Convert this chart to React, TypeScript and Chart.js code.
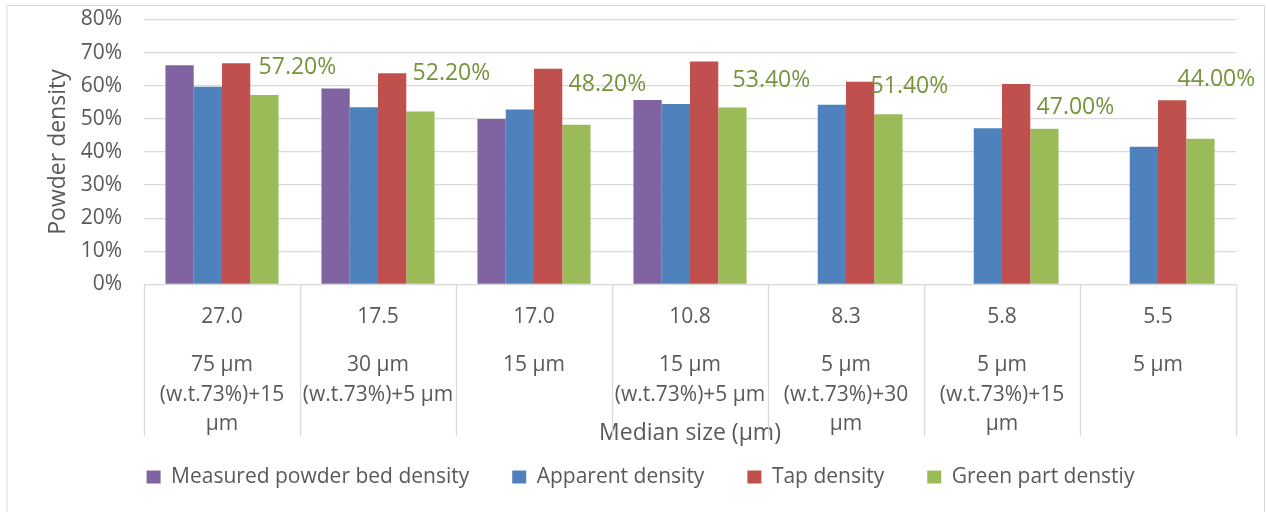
import React, { useEffect, useRef } from "react";
import { Chart, registerables } from "chart.js";

Chart.register(...registerables);

// Median particle size of each powder (first category row)
const medianSizes = ["27.0", "17.5", "17.0", "10.8", "8.3", "5.8", "5.5"];

// Powder blend of each sample (second category row, pre-wrapped)
const powderMixes = [
  ["75 µm", "(w.t.73%)+15", "µm"],
  ["30 µm", "(w.t.73%)+5 µm"],
  ["15 µm"],
  ["15 µm", "(w.t.73%)+5 µm"],
  ["5 µm", "(w.t.73%)+30", "µm"],
  ["5 µm", "(w.t.73%)+15", "µm"],
  ["5 µm"],
];

// Densities in percent
const measuredBedDensity = [66.2, 59.2, 50.0, 55.7, null, null, null];
const apparentDensity = [59.7, 53.5, 52.8, 54.5, 54.3, 47.2, 41.6];
const tapDensity = [66.8, 63.8, 65.1, 67.3, 61.2, 60.5, 55.6];
const greenPartDensity = [57.2, 52.2, 48.2, 53.4, 51.4, 47.0, 44.0];

const yTicks = [0, 10, 20, 30, 40, 50, 60, 70, 80];

// Hand-placed value labels: shift from the top centre of each green bar
const labelShiftX = [33, 31, 31, 39, 21, 31, 16];
const labelShiftY = [-27.5, -38, -40.5, -27.5, -28, -21, -59];

const FONT = "'Open Sans', 'DejaVu Sans', sans-serif";
const TEXT = "#595959";
const GRID = "#D9D9D9";

const framePlugin = {
  id: "frame",
  beforeDraw(chart: any) {
    const { ctx, width, height } = chart;
    ctx.save();
    ctx.fillStyle = "#ffffff";
    ctx.fillRect(0, 0, width, height);
    ctx.strokeStyle = GRID;
    ctx.lineWidth = 1;
    ctx.beginPath();
    ctx.moveTo(7, height + 2);
    ctx.lineTo(7, 5.5);
    ctx.lineTo(width - 1.5, 5.5);
    ctx.lineTo(width - 1.5, height + 2);
    ctx.stroke();
    ctx.restore();
  },
};

// Vertical dividers between the categories in the axis label area
const dividerPlugin = {
  id: "dividers",
  afterDraw(chart: any) {
    const x = chart.scales.x;
    const { ctx, chartArea } = chart;
    ctx.save();
    ctx.strokeStyle = GRID;
    ctx.lineWidth = 1.3;
    for (let i = 0; i <= medianSizes.length; i++) {
      const px = Math.round(x.getPixelForValue(i - 0.5)) + 0.5;
      ctx.beginPath();
      ctx.moveTo(px, chartArea.bottom);
      ctx.lineTo(px, 436);
      ctx.stroke();
    }
    ctx.restore();
  },
};

// Percent labels above the green bars
const valueLabelPlugin = {
  id: "valueLabels",
  afterDatasetsDraw(chart: any) {
    const meta = chart.getDatasetMeta(3);
    const { ctx } = chart;
    ctx.save();
    ctx.font = `23px ${FONT}`;
    ctx.fillStyle = "#77933C";
    ctx.textAlign = "center";
    ctx.textBaseline = "middle";
    meta.data.forEach((bar: any, i: number) => {
      const v = greenPartDensity[i];
      ctx.fillText(v.toFixed(2) + "%", bar.x + labelShiftX[i], bar.y + labelShiftY[i]);
    });
    ctx.restore();
  },
};

// Keep the layout paddings from label overhang out of the plot size
const noOverhang = (scale: any) => {
  scale.paddingTop = 0;
  scale.paddingBottom = 0;
  scale.paddingLeft = 0;
  scale.paddingRight = 0;
};

export default function App() {
  const canvasRef = useRef<HTMLCanvasElement | null>(null);

  useEffect(() => {
    const canvas = canvasRef.current;
    if (!canvas) return;
    const chart = new Chart(canvas, {
      type: "bar",
      data: {
        labels: medianSizes,
        datasets: [
          { label: "Measured powder bed density", data: measuredBedDensity, backgroundColor: "#8064A2" },
          { label: "Apparent density", data: apparentDensity, backgroundColor: "#4F81BD" },
          { label: "Tap density", data: tapDensity, backgroundColor: "#C0504D" },
          { label: "Green part denstiy", data: greenPartDensity, backgroundColor: "#9BBB59" },
        ],
      },
      options: {
        responsive: false,
        animation: false,
        events: [],
        categoryPercentage: 0.725,
        barPercentage: 1,
        layout: { padding: { left: 45, right: 30, top: 19.5, bottom: 14.5 } },
        plugins: {
          tooltip: { enabled: false },
          legend: {
            position: "bottom",
            // empty title with negative padding pulls the legend row up
            title: { display: true, text: "", padding: { top: -16, bottom: -15.9 } },
            labels: {
              font: { family: FONT, size: 21 },
              color: TEXT,
              boxWidth: 14,
              boxHeight: 13,
              padding: 43,
            },
          },
        },
        scales: {
          y: {
            min: 0,
            max: 80,
            afterBuildTicks(scale: any) {
              scale.ticks = yTicks.map((v) => ({ value: v }));
            },
            afterFit(scale: any) {
              scale.width = 99;
              noOverhang(scale);
            },
            ticks: {
              color: TEXT,
              font: { family: FONT, size: 21 },
              padding: 22,
              callback: (v: any) => v + "%",
            },
            grid: { color: GRID, lineWidth: 1.3, drawTicks: false },
            border: { display: false },
            title: {
              display: true,
              text: "Powder density",
              color: TEXT,
              font: { family: FONT, size: 23 },
              padding: 0,
            },
          },
          x: {
            offset: true,
            afterFit(scale: any) {
              scale.height = 64.4;
              noOverhang(scale);
            },
            ticks: {
              color: TEXT,
              font: { family: FONT, size: 21, lineHeight: 1.4 },
              padding: 17.5,
              maxRotation: 0,
              autoSkip: false,
            },
            grid: { display: false, drawTicks: false },
            border: { display: false },
          },
          x2: {
            type: "category",
            position: "bottom",
            labels: powderMixes as any,
            offset: true,
            afterFit(scale: any) {
              scale.height = 92.1;
              noOverhang(scale);
            },
            ticks: {
              color: TEXT,
              font: { family: FONT, size: 21, lineHeight: 1.4 },
              padding: 1.9,
              maxRotation: 0,
              autoSkip: false,
            },
            grid: { display: false, drawTicks: false },
            border: { display: false },
            title: {
              display: true,
              text: "Median size (µm)",
              color: TEXT,
              font: { family: FONT, size: 23 },
              padding: { top: 0, bottom: -5.8 },
            },
          },
        },
      } as any,
      plugins: [framePlugin, dividerPlugin, valueLabelPlugin],
    });
    return () => chart.destroy();
  }, []);

  return (
    <div style={{ position: "absolute", left: 0, top: 0, width: 1266, height: 512 }}>
      <style>{"body{margin:0}"}</style>
      <canvas ref={canvasRef} width={1266} height={512} />
    </div>
  );
}
